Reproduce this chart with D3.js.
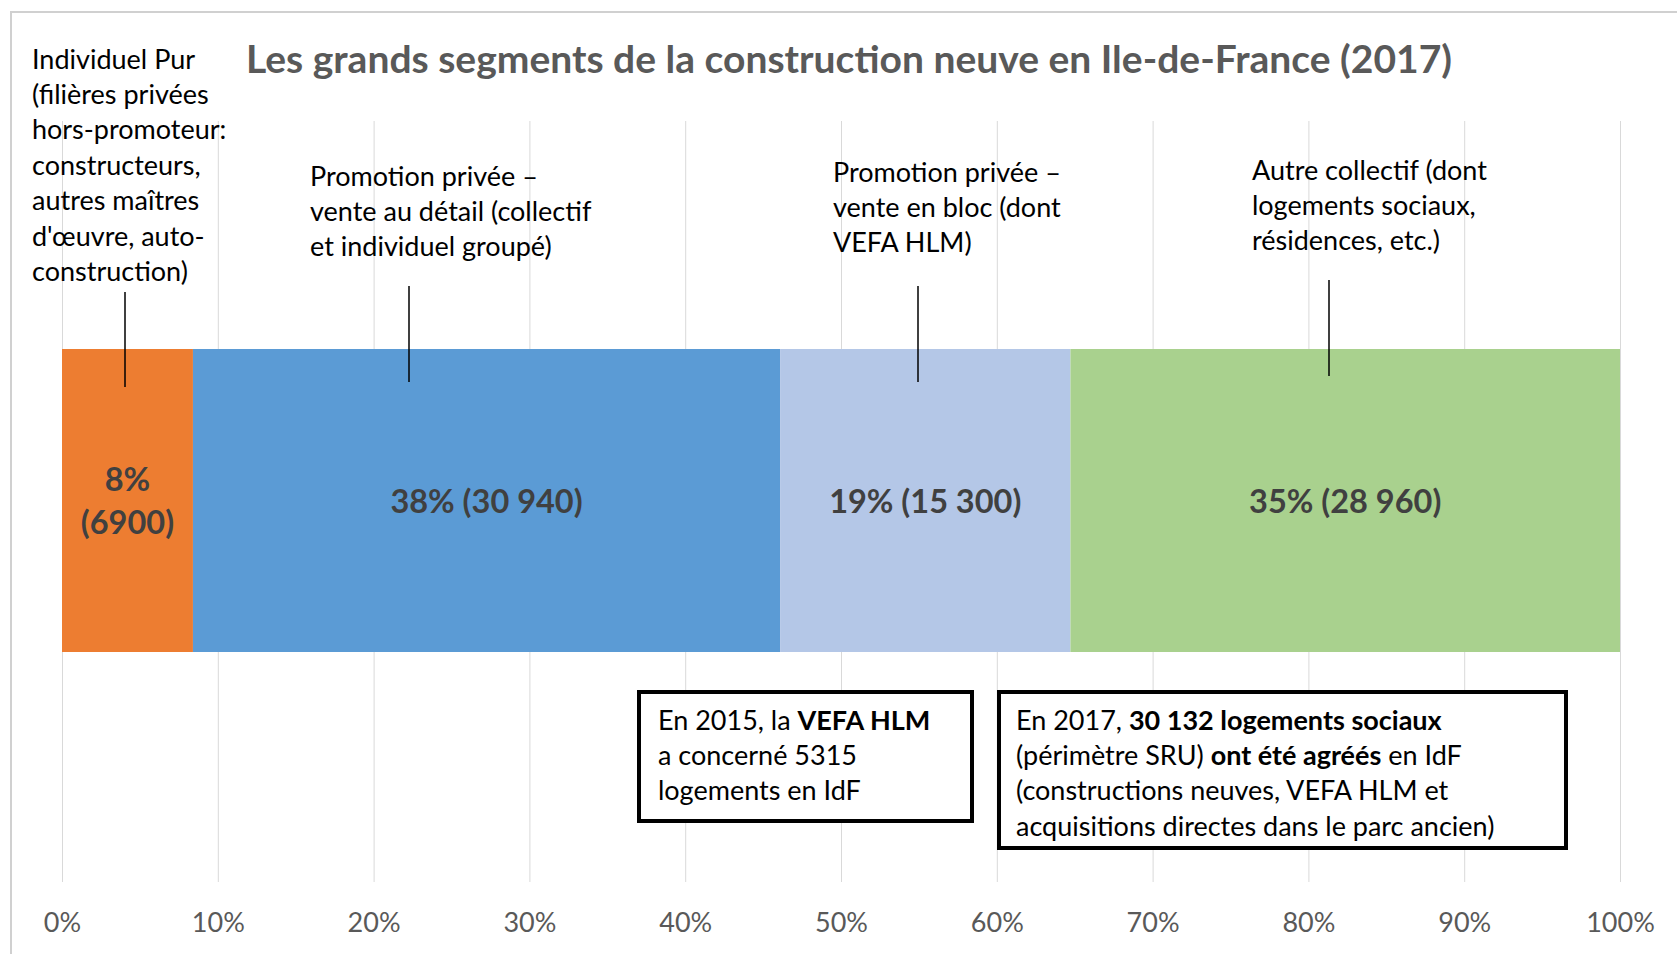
<!DOCTYPE html>
<html>
<head>
<meta charset="utf-8">
<script src="https://cdn.jsdelivr.net/npm/d3@7"></script>
<style>
  html, body { margin: 0; padding: 0; background: #fff; }
  body { width: 1677px; height: 954px; overflow: hidden; }
  svg { display: block; font-family: Lato, "Open Sans", sans-serif; }
</style>
</head>
<body>
<script>
const width = 1677;
const height = 954;

// segments of the single stacked bar
const categories = ["Individuel Pur", "Promotion privée – vente au détail", "Promotion privée – vente en bloc", "Autre collectif"];
const counts = [6900, 30940, 15300, 28960];
const barLabels = [["8%", "(6900)"], ["38% (30 940)"], ["19% (15 300)"], ["35% (28 960)"]];
const colors = ["#ED7D31", "#5B9BD5", "#B4C7E7", "#A9D18E"];

// text above each segment
const notes = [
  ["Individuel Pur", "(filières privées", "hors-promoteur:", "constructeurs,", "autres maîtres", "d'œuvre, auto-", "construction)"],
  ["Promotion privée –", "vente au détail (collectif", "et individuel groupé)"],
  ["Promotion privée –", "vente en bloc (dont", "VEFA HLM)"],
  ["Autre collectif (dont", "logements sociaux,", "résidences, etc.)"],
];

const tickValues = [0, 0.1, 0.2, 0.3, 0.4, 0.5, 0.6, 0.7, 0.8, 0.9, 1];

// text boxes, [text, bold] runs per line
const box1 = [
  [["En 2015, la ", false], ["VEFA HLM", true]],
  [["a concerné 5315", false]],
  [["logements en IdF", false]],
];
const box2 = [
  [["En 2017, ", false], ["30 132 logements sociaux", true]],
  [["(périmètre SRU) ", false], ["ont été agréés", true], [" en IdF", false]],
  [["(constructions neuves, VEFA HLM et", false]],
  [["acquisitions directes dans le parc ancien)", false]],
];

const svg = d3.create("svg").attr("width", width).attr("height", height);

// chart frame
svg.append("rect")
  .attr("x", 11).attr("y", 12)
  .attr("width", width + 20).attr("height", height + 20)
  .attr("fill", "none").attr("stroke", "#d0d0d0").attr("stroke-width", 2);

const x = d3.scaleLinear().domain([0, 1]).range([62, 1620]);
const barTop = 349, barBottom = 652;
const gridTop = 121, gridBottom = 882;

// gridlines
svg.append("g")
  .selectAll("line")
  .data(tickValues)
  .join("line")
  .attr("x1", (d) => x(d) + 0.5).attr("x2", (d) => x(d) + 0.5)
  .attr("y1", gridTop).attr("y2", gridBottom)
  .attr("stroke", "#d9d9d9").attr("stroke-width", 1);

// axis labels
const axis = d3.axisBottom(x).tickValues(tickValues).tickFormat(d3.format(".0%")).tickSize(0).tickPadding(0);
const axisG = svg.append("g").attr("transform", `translate(0,${gridBottom})`).call(axis);
axisG.select(".domain").remove();
axisG.selectAll("text")
  .attr("y", 50)
  .attr("dy", 0)
  .attr("fill", "#595959")
  .style("font-family", "Lato, sans-serif")
  .style("font-size", "27px");

// stacked data
const total = d3.sum(counts);
let acc = 0;
const segs = counts.map((c, i) => {
  const s = { i, x0: acc / total, x1: (acc + c) / total };
  acc += c;
  return s;
});

svg.append("g")
  .selectAll("rect")
  .data(segs)
  .join("rect")
  .attr("x", (d) => x(d.x0))
  .attr("width", (d) => x(d.x1) - x(d.x0))
  .attr("y", barTop)
  .attr("height", barBottom - barTop)
  .attr("fill", (d) => colors[d.i]);

// segment labels
const midY = (barTop + barBottom) / 2;
segs.forEach((d) => {
  const lines = barLabels[d.i];
  const cx = (x(d.x0) + x(d.x1)) / 2;
  const lh = 43;
  const t = svg.append("text")
    .attr("text-anchor", "middle")
    .attr("fill", "#404040")
    .attr("font-weight", "bold")
    .attr("font-size", 32.5);
  lines.forEach((ln, k) => {
    t.append("tspan")
      .attr("x", cx)
      .attr("y", midY + (k - (lines.length - 1) / 2) * lh + 12)
      .text(ln);
  });
});

// notes above the bar
const noteX = [32, 310, 833, 1252];
const noteY = [59, 176, 172, 170];
const leaders = [[125, 292, 387], [409, 286, 382], [918, 286, 382], [1329, 280, 376]];
notes.forEach((lines, i) => {
  const t = svg.append("text").attr("fill", "#000").attr("font-size", 27);
  lines.forEach((ln, k) => {
    t.append("tspan").attr("x", noteX[i]).attr("y", noteY[i] + k * 35.4 + 9.5).text(ln);
  });
  svg.append("line")
    .attr("x1", leaders[i][0]).attr("x2", leaders[i][0])
    .attr("y1", leaders[i][1]).attr("y2", leaders[i][2])
    .attr("stroke", "#000").attr("stroke-width", 1.5);
});

// title
svg.append("text")
  .attr("x", 246).attr("y", 73)
  .attr("fill", "#595959")
  .attr("font-weight", "bold")
  .attr("font-size", 38)
  .attr("textLength", 1206)
  .attr("lengthAdjust", "spacingAndGlyphs")
  .text("Les grands segments de la construction neuve en Ile-de-France (2017)");

function textBox(lines, bx, by, bw, bh, tx, ty) {
  svg.append("rect")
    .attr("x", bx).attr("y", by).attr("width", bw).attr("height", bh)
    .attr("fill", "#fff").attr("stroke", "#000").attr("stroke-width", 4);
  const t = svg.append("text").attr("font-size", 27).attr("fill", "#000");
  lines.forEach((runs, k) => {
    const line = t.append("tspan").attr("x", tx).attr("y", ty + k * 35.4 + 9.5);
    runs.forEach(([s, b]) => {
      line.append("tspan").attr("font-weight", b ? "bold" : "normal").text(s);
    });
  });
}

textBox(box1, 639, 692, 333, 129, 658, 720);
textBox(box2, 999, 692, 567, 156, 1016, 720);

document.body.appendChild(svg.node());
</script>
</body>
</html>
